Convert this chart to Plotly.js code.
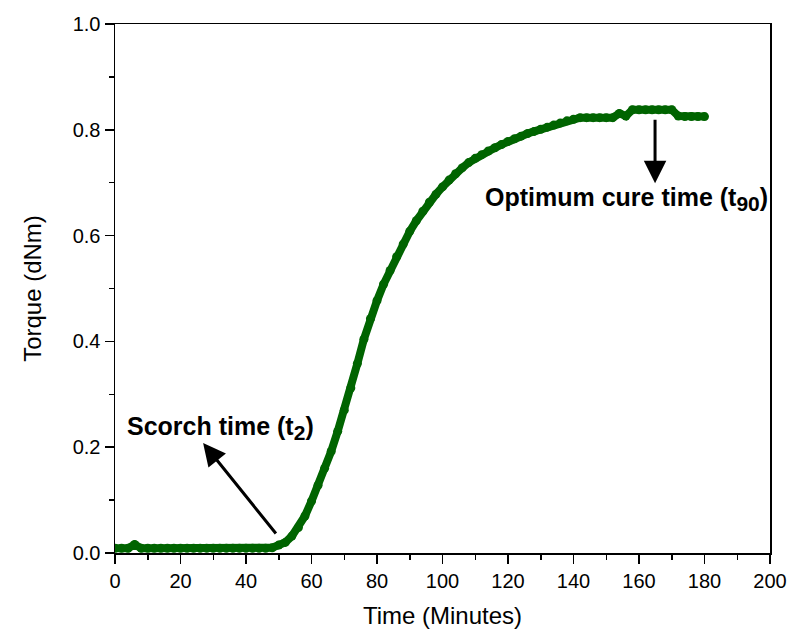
<!DOCTYPE html>
<html>
<head>
<meta charset="utf-8">
<script src="https://cdn.plot.ly/plotly-3.0.1.min.js"></script>
<style>html,body{margin:0;padding:0;background:#fff;}#chart{width:795px;height:635px;}</style>
</head>
<body>
<div id="chart"></div>
<script>
// Time (minutes)
const timeMin = [0,2,4,6,8,10,12,14,16,18,20,22,24,26,28,30,32,34,36,38,40,42,44,46,48,
  50,52,54,56,58,60,62,64,66,68,70,72,74,76,78,80,82,84,86,88,90,92,94,96,98,100,
  102,104,106,108,110,112,114,116,118,120,122,124,126,128,130,132,134,136,138,140,
  142,144,146,148,150,152,154,156,158,160,162,164,166,168,170,172,174,176,178,180];
// Torque (dNm)
const torque = [0.009,0.009,0.009,0.016,0.009,0.009,0.009,0.009,0.009,0.009,0.009,0.009,0.009,0.009,0.009,0.009,0.009,0.009,0.009,0.009,0.009,0.009,0.009,0.009,0.010,
  0.015,0.020,0.032,0.048,0.070,0.098,0.128,0.160,0.192,0.230,0.270,0.312,0.358,0.404,0.443,0.477,0.508,0.534,0.560,0.584,0.608,0.628,0.646,0.663,0.678,0.692,
  0.705,0.717,0.728,0.738,0.746,0.753,0.760,0.766,0.772,0.778,0.783,0.788,0.793,0.797,0.801,0.805,0.809,0.813,0.817,0.820,
  0.823,0.823,0.823,0.823,0.823,0.823,0.831,0.826,0.838,0.838,0.838,0.838,0.838,0.838,0.838,0.826,0.825,0.825,0.825,0.825];

const xTickVals = [0,20,40,60,80,100,120,140,160,180,200];
const yTickVals = [0.0,0.2,0.4,0.6,0.8,1.0];
const yTickText = ["0.0","0.2","0.4","0.6","0.8","1.0"];

// annotation anchors (data coordinates)
const scorchLabel = {main: "Scorch time (t", sub: "2", x: 3, y: 0.236};
const scorchArrow = {head: [26.9, 0.208], tail: [49.5, 0.034]};
const cureLabel = {main: "Optimum cure time (t", sub: "90", x: 112.3, y: 0.669};
const cureArrow = {head: [164.9, 0.699], tail: [164.9, 0.822]};

const font = "Liberation Sans, Arial, sans-serif";

function label(l) {
  return "<b>" + l.main + "<sub><span style=\"font-size:21px\">" + l.sub + "</span></sub>)</b>";
}

const trace = {
  x: timeMin, y: torque, type: "scatter", mode: "lines+markers",
  line: {color: "#006400", width: 8},
  marker: {color: "#006400", size: 9},
  hoverinfo: "skip"
};

const axisCommon = {
  showline: true, linecolor: "#000", linewidth: 1.5, mirror: true,
  ticks: "outside", ticklen: 9, tickwidth: 1.5, tickcolor: "#000",
  showgrid: false, zeroline: false,
  tickfont: {family: font, size: 20, color: "#000"}
};

const layout = {
  width: 795, height: 635,
  margin: {l: 115, r: 25, t: 24, b: 82},
  paper_bgcolor: "#fff", plot_bgcolor: "#fff",
  showlegend: false,
  xaxis: Object.assign({}, axisCommon, {
    range: [0, 200], tickvals: xTickVals,
    minor: {dtick: 10, ticklen: 5, tickwidth: 1.5, tickcolor: "#000", ticks: "outside"},
    title: {text: "Time (Minutes)", font: {family: font, size: 24, color: "#000"}, standoff: 16}
  }),
  yaxis: Object.assign({}, axisCommon, {
    range: [0, 1.0], tickvals: yTickVals, ticktext: yTickText,
    minor: {dtick: 0.1, ticklen: 5, tickwidth: 1.5, tickcolor: "#000", ticks: "outside"},
    title: {text: "Torque (dNm)", font: {family: font, size: 24, color: "#000"}, standoff: 24}
  }),
  annotations: [
    {x: scorchLabel.x, y: scorchLabel.y, xref: "x", yref: "y", text: label(scorchLabel),
     showarrow: false, xanchor: "left", yanchor: "middle", font: {family: font, size: 25, color: "#000"}},
    {x: cureLabel.x, y: cureLabel.y, xref: "x", yref: "y", text: label(cureLabel),
     showarrow: false, xanchor: "left", yanchor: "middle", font: {family: font, size: 25, color: "#000"}},
    {x: scorchArrow.head[0], y: scorchArrow.head[1], ax: scorchArrow.tail[0], ay: scorchArrow.tail[1],
     xref: "x", yref: "y", axref: "x", ayref: "y", text: "", showarrow: true,
     arrowhead: 2, arrowsize: 1.5, arrowwidth: 3, arrowcolor: "#000", standoff: 0, startstandoff: 0},
    {x: cureArrow.head[0], y: cureArrow.head[1], ax: cureArrow.tail[0], ay: cureArrow.tail[1],
     xref: "x", yref: "y", axref: "x", ayref: "y", text: "", showarrow: true,
     arrowhead: 2, arrowsize: 1.5, arrowwidth: 3, arrowcolor: "#000", standoff: 0, startstandoff: 0}
  ]
};

Plotly.newPlot("chart", [trace], layout, {displayModeBar: false, staticPlot: true});
</script>
</body>
</html>
